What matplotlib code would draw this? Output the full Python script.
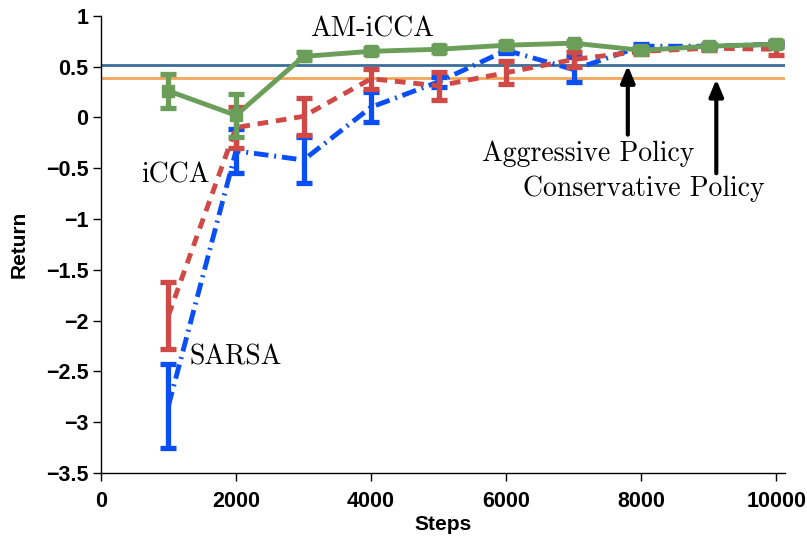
import matplotlib
matplotlib.use("Agg")
import matplotlib.pyplot as plt
import numpy as np

steps = [1000, 2000, 3000, 4000, 5000, 6000, 7000, 8000, 9000, 10000]

am_icca_mean = [0.26, 0.02, 0.60, 0.65, 0.67, 0.71, 0.73, 0.66, 0.70, 0.72]
am_icca_err = [0.17, 0.21, 0.04, 0.03, 0.03, 0.03, 0.02, 0.03, 0.02, 0.03]

icca_mean = [-1.95, -0.10, 0.01, 0.38, 0.31, 0.44, 0.57, 0.65, 0.68, 0.67]
icca_err = [0.33, 0.20, 0.18, 0.10, 0.14, 0.11, 0.07, 0.03, 0.02, 0.06]

sarsa_mean = [-2.84, -0.33, -0.42, 0.10, 0.35, 0.66, 0.47, 0.70, 0.70, 0.72]
sarsa_err = [0.41, 0.22, 0.23, 0.15, 0.05, 0.03, 0.12, 0.02, 0.02, 0.02]

aggressive_policy = 0.52
conservative_policy = 0.385

yticks = [1, 0.5, 0, -0.5, -1, -1.5, -2, -2.5, -3, -3.5]
xticks = [0, 2000, 4000, 6000, 8000, 10000]

green = "#6b9e58"
red = "#cf4a46"
blue = "#0a4ff5"
steel = "#3b6e98"
orange = "#f2a65a"

fig = plt.figure(figsize=(8.07, 5.43), dpi=100)
ax = fig.add_axes([0.125, 0.129, 0.848, 0.842])

ax.axhline(aggressive_policy, color=steel, lw=2, zorder=1)
ax.axhline(conservative_policy, color=orange, lw=2, zorder=1)

ax.errorbar(steps, sarsa_mean, yerr=sarsa_err, color=blue, lw=3.5,
            ls=(0, (3, 1.2, 0.4, 1.2)), elinewidth=3.8, capsize=6, capthick=3.8, zorder=2)
ax.errorbar(steps, icca_mean, yerr=icca_err, color=red, lw=3.5,
            ls=(0, (2.2, 1.6)), elinewidth=3.8, capsize=6, capthick=3.8, zorder=3)
ax.errorbar(steps, am_icca_mean, yerr=am_icca_err, color=green, lw=3.5,
            ls='-', marker='s', ms=8, elinewidth=3.8, capsize=6, capthick=3.8, zorder=4)

serif = ['cmr10', 'DejaVu Serif']
fs = 20
ax.text(4020, 0.87, "AM-iCCA", fontsize=fs, family=serif, ha='center', va='center')
ax.text(1110, -0.57, "iCCA", fontsize=fs, family=serif, ha='center', va='center')
ax.text(2000, -2.36, "SARSA", fontsize=fs, family=serif, ha='center', va='center')
ax.text(7210, -0.36, "Aggressive Policy", fontsize=fs, family=serif, ha='center', va='center')
ax.text(8040, -0.70, "Conservative Policy", fontsize=fs, family=serif, ha='center', va='center')

arrow = dict(arrowstyle='-|>,head_length=1.0,head_width=0.42', color='black', lw=3,
             shrinkA=0, shrinkB=0)
ax.annotate("", xy=(7800, aggressive_policy - 0.01), xytext=(7800, -0.17), arrowprops=arrow)
ax.annotate("", xy=(9110, conservative_policy - 0.01), xytext=(9110, -0.55), arrowprops=arrow)

ax.set_xlim(0, 10130)
ax.set_ylim(-3.5, 1)
ax.set_xticks(xticks)
ax.set_yticks(yticks)
ax.set_yticklabels([("%g" % v).replace('-', '\u2212') for v in yticks])
for s in ['top', 'right']:
    ax.spines[s].set_visible(False)
for s in ['left', 'bottom']:
    ax.spines[s].set_linewidth(1.0)
ax.tick_params(direction='out', length=6, width=1, pad=3)
ax.tick_params(axis='x', pad=7)
for lab in ax.get_xticklabels() + ax.get_yticklabels():
    lab.set_fontfamily('Liberation Sans')
    lab.set_fontweight('bold')
    lab.set_fontsize(15.5)
ax.set_xlabel("Steps", fontfamily='Liberation Sans', fontweight='bold', fontsize=15, labelpad=2)
ax.set_ylabel("Return", fontfamily='Liberation Sans', fontweight='bold', fontsize=15, labelpad=12)

fig.savefig("out.png", dpi=100)
